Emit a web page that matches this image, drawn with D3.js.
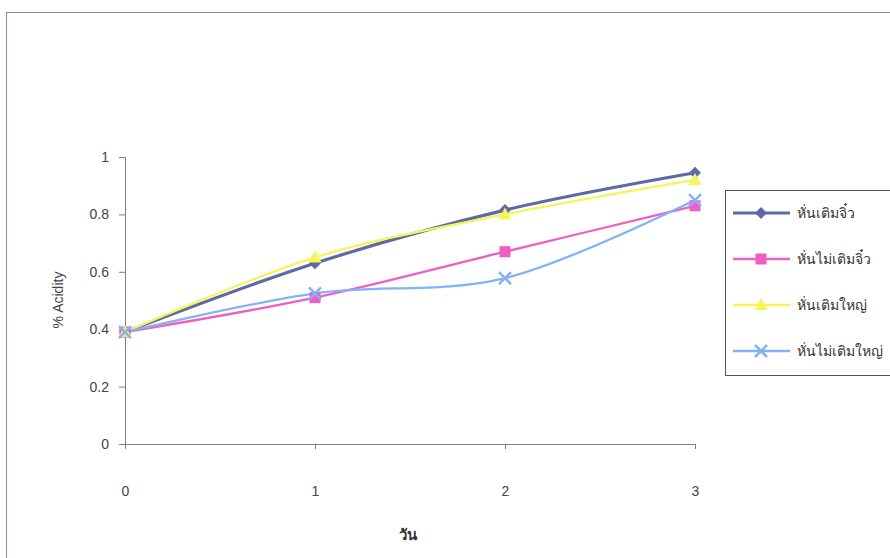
<!DOCTYPE html>
<html>
<head>
<meta charset="utf-8">
<script src="https://cdn.jsdelivr.net/npm/d3@7"></script>
<style>
  body { margin: 0; background: #fff; }
  text { font-family: "Liberation Sans", Arial, sans-serif; }
</style>
</head>
<body>
<div id="chart"></div>
<script>
// data
const days = [0, 1, 2, 3]
const seriesNames = ["หั่นเติมจิ๋ว", "หั่นไม่เติมจิ๋ว", "หั่นเติมใหญ่", "หั่นไม่เติมใหญ่"]
const addedSmall = [0.39, 0.63, 0.815, 0.945]
const plainSmall = [0.39, 0.51, 0.67, 0.83]
const addedLarge = [0.39, 0.65, 0.80, 0.92]
const plainLarge = [0.39, 0.525, 0.578, 0.85]
const yTicks = [0, 0.2, 0.4, 0.6, 0.8, 1]

const colors = ["#5e6aa6", "#ee5fc4", "#f5f55a", "#83b2f5"]
const shapes = ["diamond", "square", "triangle", "cross"]
const values = [addedSmall, plainSmall, addedLarge, plainLarge]

const W = 890, H = 558
const svg = d3.select("#chart").append("svg")
    .attr("width", W).attr("height", H)

// chart frame (runs off the page to the right and bottom)
svg.append("rect")
    .attr("x", 6.5).attr("y", 12.5)
    .attr("width", W + 20).attr("height", H + 20)
    .attr("fill", "none").attr("stroke", "#8a8a9a").attr("stroke-width", 1)

const x = d3.scaleLinear().domain([0, 3]).range([125, 695])
const y = d3.scaleLinear().domain([0, 1]).range([444, 157])

// Y axis
const yAxis = svg.append("g")
    .attr("transform", "translate(125,0)")
    .call(d3.axisLeft(y).tickValues(yTicks).tickSize(6).tickPadding(10).tickFormat(d => d3.format("")(d)))
yAxis.select(".domain").attr("stroke", "#7a7f96")
yAxis.selectAll(".tick line").attr("stroke", "#7a7f96")
yAxis.selectAll("text").attr("fill", "#444").style("font-size", "14px")

// X axis
const xAxis = svg.append("g")
    .attr("transform", "translate(0,444)")
    .call(d3.axisBottom(x).tickValues(days).tickSize(5).tickPadding(37).tickFormat(d3.format("d")))
xAxis.select(".domain").attr("stroke", "#7a7f96")
xAxis.selectAll(".tick line").attr("stroke", "#7a7f96")
xAxis.selectAll("text").attr("fill", "#444").style("font-size", "14px")

// axis titles
svg.append("text")
    .attr("transform", "translate(63,300) rotate(-90)")
    .attr("text-anchor", "middle")
    .attr("fill", "#444").style("font-size", "14px")
    .text("% Acidity")
svg.append("text")
    .attr("x", 408).attr("y", 540)
    .attr("text-anchor", "middle")
    .attr("fill", "#333").style("font-size", "15px").style("font-weight", "bold")
    .text("วัน")

function drawMarker(g, shape, color, cx, cy) {
    if (shape === "diamond") {
        g.append("path")
            .attr("d", `M${cx},${cy - 6}L${cx + 6},${cy}L${cx},${cy + 6}L${cx - 6},${cy}Z`)
            .attr("fill", color)
    } else if (shape === "square") {
        g.append("rect").attr("x", cx - 5.5).attr("y", cy - 5.5)
            .attr("width", 11).attr("height", 11).attr("fill", color)
    } else if (shape === "triangle") {
        g.append("path")
            .attr("d", `M${cx},${cy - 7}L${cx + 6.5},${cy + 5}L${cx - 6.5},${cy + 5}Z`)
            .attr("fill", color)
    } else {
        g.append("path")
            .attr("d", `M${cx - 6},${cy - 6}L${cx + 6},${cy + 6}M${cx + 6},${cy - 6}L${cx - 6},${cy + 6}`)
            .attr("stroke", color).attr("stroke-width", 2.5).attr("fill", "none")
    }
}

const line = d3.line()
    .x((d, i) => x(days[i]))
    .y(d => y(d))
    .curve(d3.curveCatmullRom.alpha(0))

const plot = svg.append("g")
values.forEach((vals, s) => {
    plot.append("path")
        .datum(vals)
        .attr("d", line)
        .attr("fill", "none")
        .attr("stroke", colors[s])
        .attr("stroke-width", s === 0 ? 3.2 : 2.3)
})
values.forEach((vals, s) => {
    vals.forEach((v, i) => drawMarker(plot, shapes[s], colors[s], x(days[i]), y(v)))
})

// legend
const legend = svg.append("g")
legend.append("rect")
    .attr("x", 725.5).attr("y", 190.5)
    .attr("width", 200).attr("height", 185)
    .attr("fill", "#fff").attr("stroke", "#555").attr("stroke-width", 1)
const legendY = [213, 259, 305, 351]
seriesNames.forEach((name, s) => {
    const ly = legendY[s]
    legend.append("line")
        .attr("x1", 733).attr("x2", 790).attr("y1", ly).attr("y2", ly)
        .attr("stroke", colors[s]).attr("stroke-width", s === 0 ? 3.2 : 2.3)
    drawMarker(legend, shapes[s], colors[s], 761, ly)
    legend.append("text")
        .attr("x", 797).attr("y", ly + 5)
        .attr("fill", "#333").style("font-size", "14px")
        .text(name)
})
</script>
</body>
</html>
